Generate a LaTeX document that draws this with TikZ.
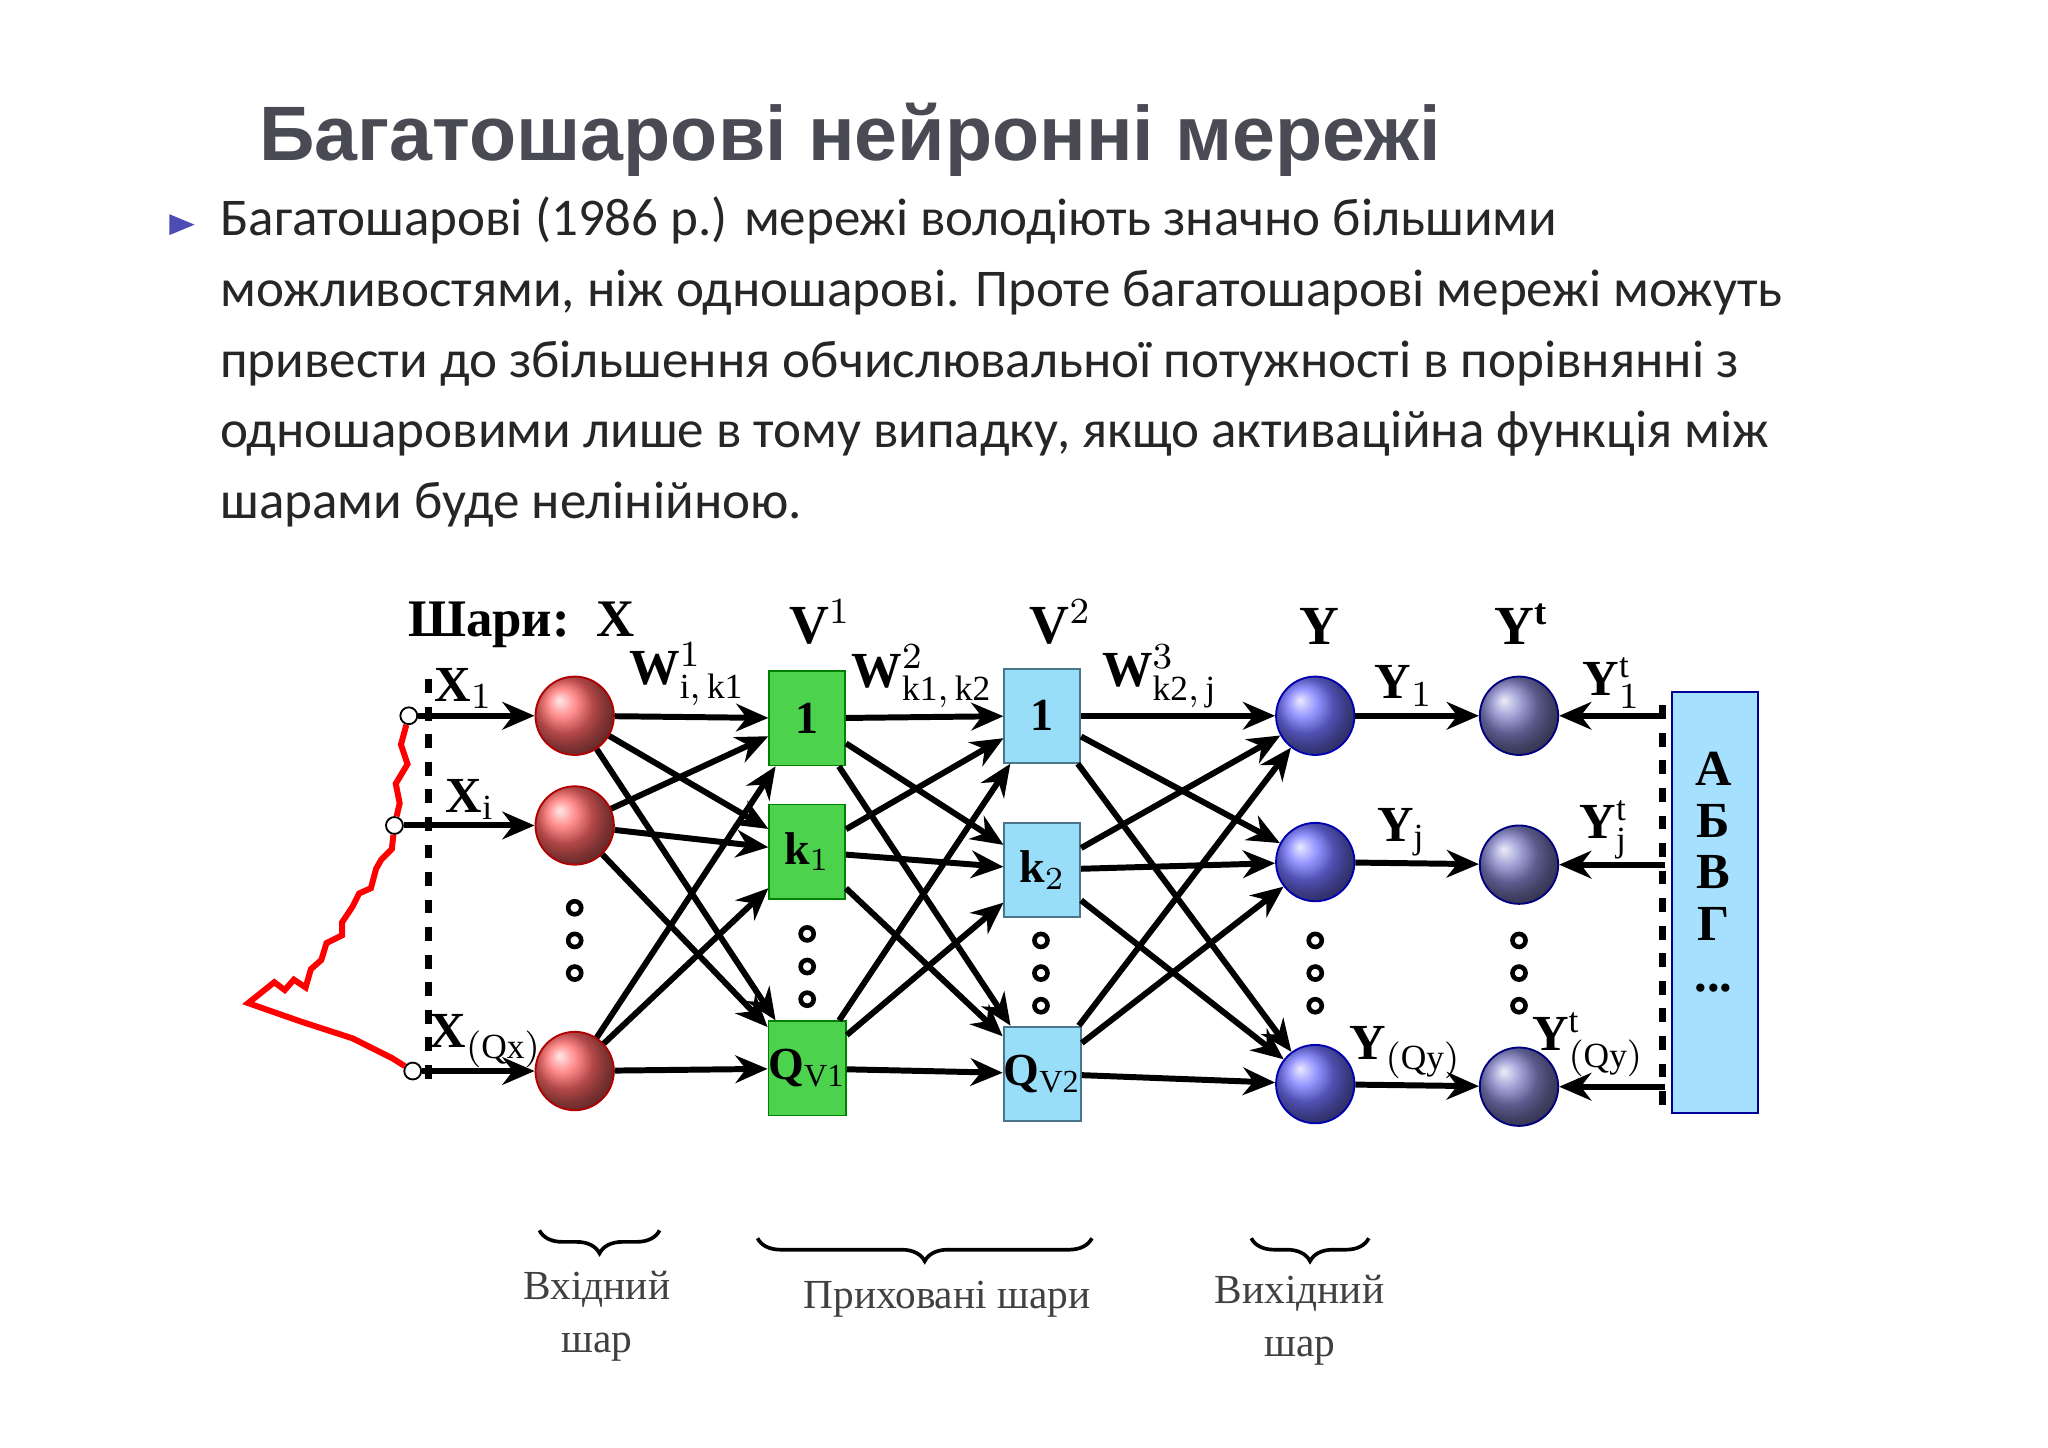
\documentclass[tikz,border=0pt]{standalone}
\usepackage{fontspec}
\setmainfont{Liberation Serif}
\newfontfamily\ttl{Liberation Sans}
\newfontfamily\bdy{Carlito}
\usetikzlibrary{arrows.meta,decorations.pathreplacing,shapes.geometric}
\definecolor{ttlc}{HTML}{4A4A55}
\begin{document}
\begin{tikzpicture}[x=0.01cm,y=-0.01cm,
  con/.style={-{Stealth[length=7pt,width=6pt]},line width=1.3pt},
  rc/.style={circle,minimum size=0.6cm,inner sep=0,draw=red!70!black,shading=ball,ball color=red!60!white},
  bc/.style={circle,minimum size=0.6cm,inner sep=0,draw=blue!70!black,shading=ball,ball color=blue!55!white},
  pc/.style={circle,minimum size=0.6cm,inner sep=0,draw=blue!50!black,shading=ball,ball color=blue!40!gray!70!white},
  gs/.style={rectangle,minimum width=0.58cm,minimum height=0.72cm,inner sep=0,draw=green!50!black,fill=green!75!black!70,font=\bfseries\fontsize{10}{12}\selectfont},
  cs/.style={rectangle,minimum width=0.58cm,minimum height=0.72cm,inner sep=0,draw=cyan!50!black,fill=cyan!40,font=\bfseries\fontsize{10}{12}\selectfont},
  lab/.style={font=\bfseries\fontsize{11}{13}\selectfont,inner sep=1pt},
  dots/.style={circle,draw,line width=1pt,minimum size=0.1cm,inner sep=0},
  br/.style={decorate,decoration={brace,amplitude=5pt},line width=0.8pt},
  bt/.style={font=\fontsize{9}{11.5}\selectfont,align=center,text=black!75}]
\useasboundingbox (0,0) rectangle (1568,1108);
\fill[white] (0,0) rectangle (1568,1108);
\node[anchor=west,font=\ttl\bfseries\fontsize{16.8}{18}\selectfont,text=ttlc] (title) at (186,107) {Багатошарові нейронні мережі};
\node[isosceles triangle,fill=gray!60!blue,minimum height=0.1cm,minimum width=0.16cm,inner sep=0] (bul) at (135,172) {};
\node[anchor=north west,align=left,inner sep=0,font=\bdy\fontsize{11.55}{15.4}\selectfont,text=black!85] (body) at (168,150)
 {Багатошарові (1986 р.) мережі володіють значно більшими\\можливостями, ніж одношарові. Проте багатошарові мережі можуть\\привести до збільшення обчислювальної потужності в порівнянні з\\одношаровими лише в тому випадку, якщо активаційна функція між\\шарами буде нелінійною.};
% layers
\foreach \n/\y in {1/548,2/632,3/820} \node[rc] (x\n) at (440,\y) {};
\node[gs] (v1) at (618,550) {1};
\node[gs] (v2) at (618,652) {k$_1$};
\node[gs] (v3) at (618,818) {Q$_{\mathrm{V1}}$};
\node[cs] (u1) at (798,548) {1};
\node[cs] (u2) at (798,666) {k$_2$};
\node[cs] (u3) at (798,822) {Q$_{\mathrm{V2}}$};
\foreach \n/\y in {1/548,2/660,3/830} \node[bc] (y\n) at (1007,\y) {};
\foreach \n/\y in {1/548,2/662,3/832} \node[pc] (t\n) at (1163,\y) {};
\node[draw=blue!60!black,fill=blue!35!cyan!35,minimum width=0.66cm,minimum height=3.22cm,inner sep=0] (abc) at (1313,691) {};
\node[align=center,font=\bfseries\fontsize{11}{11.2}\selectfont] (abct) at (1312,668) {А\\Б\\В\\Г\\...};
% connections
\foreach \a in {x1,x2,x3}{\foreach \b in {v1,v2,v3}{\draw[con] (\a) -- (\b);}}
\foreach \a in {v1,v2,v3}{\foreach \b in {u1,u2,u3}{\draw[con] (\a) -- (\b);}}
\foreach \a in {u1,u2,u3}{\foreach \b in {y1,y2,y3}{\draw[con] (\a) -- (\b);}}
\foreach \n in {1,2,3}{\draw[con] (y\n) -- (t\n);}
\foreach \n/\y in {1/548,2/662,3/832}{\coordinate (r\n) at (1275,\y); \draw[con] (r\n) -- (t\n);}
% inputs
\foreach \n/\xx/\y in {1/313/548,2/302/632,3/316/820}{\node[circle,draw,fill=white,inner sep=1.3pt] (i\n) at (\xx,\y) {}; \draw[con] (i\n) -- (x\n);}
\draw[red,line width=1.3pt] (i1) -- (307,570) -- (312,585) -- (303,600) -- (306,615) -- (i2) -- (300,650) -- (292,658) -- (288,665) -- (284,680) -- (275,684) -- (270,694) -- (262,706) -- (262,716) -- (250,722) -- (246,735) -- (238,742) -- (234,756) -- (225,750) -- (218,758) -- (210,752) -- (200,760) -- (190,768) -- (230,782) -- (270,795) -- (300,810) -- (i3);
\draw[dashed,line width=1.5pt] (328,520) -- (328,835);
\draw[dashed,line width=1.5pt] (1273,540) -- (1273,850);
% dots
\foreach \xx/\y in {440/695,618/715,797/720,1007/720,1163/720}{\foreach \d in {0,25,50}{\node[dots] at (\xx,\y+\d) {};}}
% labels
\node[anchor=west,font=\bfseries\fontsize{11.5}{14}\selectfont] (hdr) at (300,478) {Шари:\ \ X};
\node[font=\bfseries\fontsize{12}{14}\selectfont] (lv1) at (628,476) {V$^{1}$};
\node[font=\bfseries\fontsize{12}{14}\selectfont] (lv2) at (812,476) {V$^{2}$};
\node[font=\bfseries\fontsize{12}{14}\selectfont] (ly) at (1010,480) {Y};
\node[font=\bfseries\fontsize{12}{14}\selectfont] (lyt) at (1165,478) {Y$^{\mathbf t}$};
\node[lab] at (355,527) {X$_1$};
\node[lab] at (360,612) {X$_{\mathrm i}$};
\node[lab] at (372,797) {X$_{\mathrm{(Qx)}}$};
\node[lab] at (526,516) {W$^{1}_{\mathrm{i,\,k1}}$};
\node[lab] at (706,518) {W$^{2}_{\mathrm{k1,\,k2}}$};
\node[lab] at (888,518) {W$^{3}_{\mathrm{k2,\,j}}$};
\node[lab] at (1075,525) {Y$_1$};
\node[lab] at (1073,637) {Y$_{\mathrm j}$};
\node[lab] at (1076,806) {Y$_{\mathrm{(Qy)}}$};
\node[lab] at (1234,523) {Y$^{\mathrm t}_1$};
\node[lab] at (1228,635) {Y$^{\mathrm t}_{\mathrm j}$};
\node[lab] at (1216,800) {Y$^{\mathrm t}_{\mathrm{(Qy)}}$};
% braces
\draw[br] (505,942) -- (413,942);
\draw[br] (836,948) -- (580,948);
\draw[br] (1048,948) -- (958,948);
\node[bt] at (457,1008) {Вхідний\\шар};
\node[bt] at (725,995) {Приховані шари};
\node[bt] at (995,1011) {Вихідний\\шар};
\end{tikzpicture}
\end{document}
